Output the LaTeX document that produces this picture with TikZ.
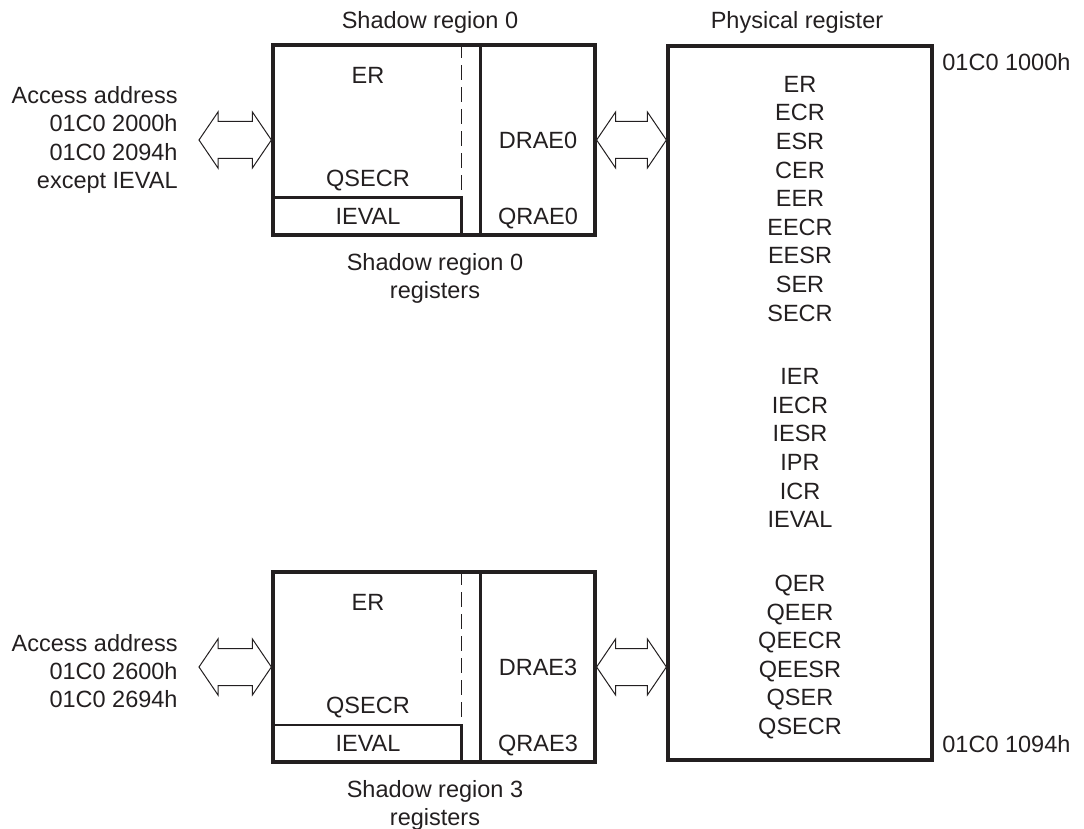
\documentclass[tikz,border=0pt]{standalone}
\usepackage{fontspec}
\setmainfont{Liberation Sans}
\usetikzlibrary{calc,positioning}
\definecolor{ink}{HTML}{231F20}

\tikzset{
  reg/.style={font=\fontsize{11.75}{14}\selectfont, text=ink, inner sep=0pt, anchor=base, yshift=-4.2pt},
  box/.style={draw=ink, line width=1.6pt, inner sep=0pt},
  inner/.style={draw=ink, line width=1.1pt},
  dsh/.style={draw=ink, line width=0.7pt, dash pattern=on 7.5pt off 3.5pt},
  fat/.style={draw=ink, line width=0.5pt, fill=white},
}

% hollow double arrow between two points on one level
\newcommand{\fatarrow}[2]{%
  \draw[fat] (#1) -- ++(19,-28) -- ++(0,9.5) -- ($(#2)+(-19,-18.5)$)
    -- ++(0,-9.5) -- (#2) -- ++(-19,28) -- ++(0,-9.5)
    -- ($(#1)+(19,18.5)$) -- ++(0,9.5) -- cycle;}

\begin{document}
\begin{tikzpicture}[x=0.5pt,y=-0.5pt]
  \useasboundingbox (0,0) rectangle (1084,829);

  % Physical register
  \node[box, minimum width=132pt, minimum height=357pt] (phys) at (800,403) {};
  \node[reg] (physhd) at (797,20) {Physical register};
  \node[reg, anchor=base west] (lo) at (942,62) {01C0 1000h};
  \node[reg, anchor=base west] (hi) at (942,744) {01C0 1094h};
  \foreach \r [count=\i from 0] in {ER,ECR,ESR,CER,EER,EECR,EESR,SER,SECR}
    \node[reg] (pa\i) at (800,84+28.6*\i) {\r};
  \foreach \r [count=\i from 0] in {IER,IECR,IESR,IPR,ICR,IEVAL}
    \node[reg] (pb\i) at (800,376.4+28.6*\i) {\r};
  \foreach \r [count=\i from 0] in {QER,QEER,QEECR,QEESR,QSER,QSECR}
    \node[reg] (pc\i) at (800,583+28.6*\i) {\r};

  % Shadow regions 0 and 3
  \foreach \n/\y in {0/140, 3/667} {
    \node[box, minimum width=161pt, minimum height=95pt] (sr\n) at (434,\y) {};
    \draw[inner] ($(sr\n.south west)+(0,-39)$) -| ($(sr\n.south west)+(190,0)$);
    \draw[inner] ($(sr\n.north west)+(209,0)$) -- ($(sr\n.south west)+(209,0)$);
    \draw[dsh] ($(sr\n.north west)+(190,0)$) -- ($(sr\n.south west)+(190,-39)$);
    \node[reg] (er\n) at (368,\y-65) {ER};
    \node[reg] (qsecr\n) at (368,\y+38) {QSECR};
    \node[reg] (ieval\n) at (368,\y+76) {IEVAL};
    \node[reg] (drae\n) at (538,\y) {DRAE\n};
    \node[reg] (qrae\n) at (538,\y+76) {QRAE\n};
    \node[reg] (capa\n) at (435,\y+122) {Shadow region \n};
    \node[reg] (capb\n) at (435,\y+150) {registers};
    % arrows
    \coordinate (acc\n) at (199,\y);
    \coordinate (ph\n) at (phys.west |- sr\n.east);
    \fatarrow{acc\n}{sr\n.west}
    \fatarrow{sr\n.east}{ph\n}
  }
  \node[reg] (srhd) at (430,20) {Shadow region 0};

  % Access addresses
  \foreach \t [count=\i from 0] in {Access address, 01C0 2000h, 01C0 2094h, except IEVAL}
    \node[reg, anchor=base east] (ada\i) at (178,95+28.5*\i) {\t};
  \foreach \t [count=\i from 0] in {Access address, 01C0 2600h, 01C0 2694h}
    \node[reg, anchor=base east] (adb\i) at (178,643+28*\i) {\t};
\end{tikzpicture}
\end{document}
